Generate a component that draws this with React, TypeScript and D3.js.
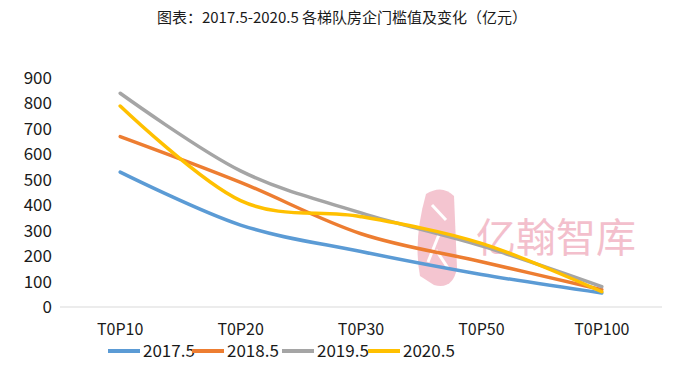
import React from 'react';
import * as d3 from 'd3';

const categories = ['T0P10', 'T0P20', 'T0P30', 'T0P50', 'T0P100'];
const seriesNames = ['2017.5', '2018.5', '2019.5', '2020.5'];
const values2017 = [530, 322, 218, 128, 55];
const values2018 = [670, 490, 288, 178, 68];
const values2019 = [840, 535, 370, 240, 80];
const values2020 = [790, 418, 355, 250, 60];
const yTicks = [0, 100, 200, 300, 400, 500, 600, 700, 800, 900];
const colors = ['#5B9BD5', '#ED7D31', '#A5A5A5', '#FFC000'];

const font = '"Noto Sans CJK SC", "Noto Sans", sans-serif';

export default function App() {
  const width = 688;
  const height = 388;

  const x = d3.scaleBand().domain(categories).range([60, 662]);
  const y = d3.scaleLinear().domain([0, 900]).range([307, 78]);

  const allSeries = [values2017, values2018, values2019, values2020];

  const line = d3.line<number>()
    .x((d, i) => x(categories[i])! + x.bandwidth() / 2)
    .y(d => y(d))
    .curve(d3.curveCardinal.tension(0));

  const legendX = [108, 192, 282, 368];

  return (
    <svg width={width} height={height} style={{ position: 'absolute', left: 0, top: 0, background: '#fff' }}>
      <text x={342} y={23} textAnchor="middle" fontFamily={font} fontSize={15} fill="#1a1a1a">
        图表：2017.5-2020.5 各梯队房企门槛值及变化（亿元）
      </text>

      {/* watermark */}
      <g opacity={0.6}>
        <path d="M 426 194 Q 442 184 454 196 L 457 268 Q 453 290 434 285 L 420 276 Q 413 240 426 194 Z" fill="#ee9fb2" />
        <path d="M 432 205 L 446 220 M 440 232 L 428 262 M 436 250 L 448 268" stroke="#fff" strokeWidth={3} fill="none" />
        <text x={476} y={252} fontFamily={font} fontSize={40} fill="#ec96ab">亿翰智库</text>
      </g>

      <line x1={60} x2={662} y1={y(0)} y2={y(0)} stroke="#d9d9d9" strokeWidth={1} />

      {yTicks.map(t => (
        <text key={t} x={52} y={y(t)} dy="0.35em" textAnchor="end" fontFamily={font} fontSize={17} fill="#1a1a1a">{t}</text>
      ))}

      {categories.map(c => (
        <text key={c} x={x(c)! + x.bandwidth() / 2} y={329} dy="0.35em" textAnchor="middle" fontFamily={font} fontSize={16} fill="#1a1a1a">{c}</text>
      ))}

      {allSeries.map((s, i) => (
        <path key={seriesNames[i]} d={line(s) || ''} fill="none" stroke={colors[i]} strokeWidth={3.5} strokeLinecap="round" />
      ))}

      {seriesNames.map((n, i) => (
        <g key={n}>
          <line x1={legendX[i]} x2={legendX[i] + 32} y1={351} y2={351} stroke={colors[i]} strokeWidth={4} />
          <text x={legendX[i] + 35} y={351} dy="0.35em" fontFamily={font} fontSize={17} fill="#1a1a1a">{n}</text>
        </g>
      ))}
    </svg>
  );
}
